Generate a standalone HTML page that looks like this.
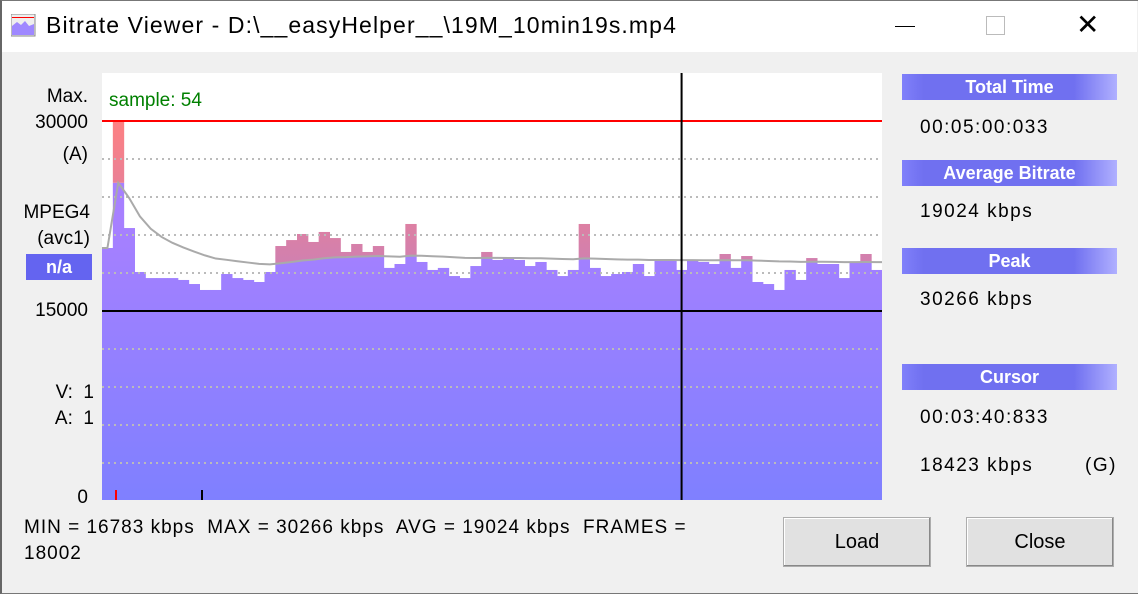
<!DOCTYPE html>
<html><head><meta charset="utf-8"><style>
body{margin:0;width:1138px;height:594px;background:#f0f0f0;font-family:"Liberation Sans",sans-serif;position:relative;overflow:hidden}
.a{position:absolute;white-space:nowrap}
#win{position:absolute;left:0;top:0;width:1136px;height:592px;border:1px solid #777;border-left:2px solid #666}
.hdr{position:absolute;left:902px;width:215px;height:26px;background:linear-gradient(90deg,#8080fa 0%,#7070f0 10%,#7070f0 80%,#b0b0ff 100%);color:#fff;font-weight:bold;font-size:18px;text-align:center;line-height:26px}
.val{position:absolute;left:920px;font-size:19px;color:#000;letter-spacing:1.5px}
.lbl{position:absolute;font-size:19px;color:#000;text-align:right}
.btn{position:absolute;top:517px;width:146px;height:48px;background:#e1e1e1;border:1px solid #adadad;box-shadow:inset -1px -1px 0 #888,inset 1px 1px 0 #fff;font-size:20px;text-align:center;line-height:48px}
</style></head><body>
<div id="win"></div>
<div class="a" style="left:2px;top:1px;width:1135px;height:51px;background:#fff"></div>
<svg class="a" style="left:11px;top:14px" width="26" height="24"><rect x="0" y="0" width="24" height="22" fill="#eee" stroke="#888"/><rect x="1" y="3" width="22" height="1" fill="red"/><polygon points="1,21 1,12 6,8 10,11 14,7 18,12 23,10 23,21" fill="#9f88ff"/></svg>
<div class="a" style="left:46px;top:12px;font-size:23px;letter-spacing:1.1px">Bitrate Viewer - D:\__easyHelper__\19M_10min19s.mp4</div>
<div class="a" style="left:895px;top:26px;width:20px;height:1px;background:#000"></div>
<div class="a" style="left:986px;top:16px;width:17px;height:17px;border:1px solid #bbb"></div>
<div class="a" style="left:1076px;top:8px;font-size:28px">✕</div>

<div class="lbl" style="left:20px;top:86px;width:68px">Max.</div>
<div class="lbl" style="left:20px;top:112px;width:68px">30000</div>
<div class="lbl" style="left:20px;top:144px;width:68px">(A)</div>
<div class="lbl" style="left:10px;top:202px;width:80px">MPEG4</div>
<div class="lbl" style="left:10px;top:228px;width:80px">(avc1)</div>
<div class="a" style="left:26px;top:254px;width:66px;height:26px;background:#6464f0;color:#fff;font-weight:bold;font-size:18px;text-align:center;line-height:26px">n/a</div>
<div class="lbl" style="left:20px;top:300px;width:68px">15000</div>
<div class="lbl" style="left:20px;top:382px;width:74px">V:&nbsp; 1</div>
<div class="lbl" style="left:20px;top:408px;width:74px">A:&nbsp; 1</div>
<div class="lbl" style="left:20px;top:487px;width:68px">0</div>

<svg class="a" id="chart" style="left:102px;top:73px" width="780" height="427"></svg>

<div class="a" style="left:24px;top:517px;font-size:19px;letter-spacing:1px">MIN = 16783 kbps&nbsp; MAX = 30266 kbps&nbsp; AVG = 19024 kbps&nbsp; FRAMES =</div>
<div class="a" style="left:24px;top:543px;font-size:19px;letter-spacing:1px">18002</div>

<div class="hdr" style="top:74px">Total Time</div>
<div class="val" style="top:117px">00:05:00:033</div>
<div class="hdr" style="top:160px">Average Bitrate</div>
<div class="val" style="top:201px">19024 kbps</div>
<div class="hdr" style="top:248px">Peak</div>
<div class="val" style="top:289px">30266 kbps</div>
<div class="hdr" style="top:364px">Cursor</div>
<div class="val" style="top:407px">00:03:40:833</div>
<div class="val" style="top:455px;height:22px;overflow:hidden">18423 kbps</div>
<div class="val" style="left:1085px;top:455px">(G)</div>

<div class="btn" style="left:783px">Load</div>
<div class="btn" style="left:966px">Close</div>

<script>
const bitrates=[19974,30266,21550,18080,17600,17600,17600,17450,17130,16660,16660,17920,17600,17450,17290,18080,20130,20600,21080,20450,21240,20760,19660,20290,19660,20130,18400,18710,21870,18870,18240,18400,17760,17600,18550,19660,19030,19180,19030,18550,18870,18240,17760,18240,21870,18400,17760,17920,18080,18710,17760,19030,19030,18240,19030,18870,18710,19500,18400,19340,17290,17130,16660,18240,17450,19180,18710,18710,17600,18870,19500,18240];
const gridTicks=[3000,6000,9000,12000,18000,21000,24000,27000];
const maxValue=30000, midValue=15000, cursorIndex=53.5, sampleLabel="sample: 54";
const NS="http://www.w3.org/2000/svg";
const svg=document.getElementById('chart');
const W=780,H=427;
const y=v=>428-Math.min(v,maxValue)*38/3000;
const x=i=>i*W/bitrates.length;
function mk(t,a){const e=document.createElementNS(NS,t);for(const k in a)e.setAttribute(k,a[k]);svg.appendChild(e);return e;}
const defs=mk('defs',{});
defs.innerHTML='<linearGradient id="pg" x1="0" y1="0" x2="0" y2="'+H+'" gradientUnits="userSpaceOnUse"><stop offset="0.35" stop-color="#a780ff"/><stop offset="1" stop-color="#7f80ff"/></linearGradient><linearGradient id="rg" x1="0" y1="0" x2="0" y2="'+H+'" gradientUnits="userSpaceOnUse"><stop offset="0.1" stop-color="#ff8080"/><stop offset="0.45" stop-color="#d080b0"/></linearGradient>';
const bg=mk('rect',{x:0,y:0,width:W,height:H,fill:'#fff'});


const avgs=[];let s=0;bitrates.forEach((v,i)=>{s+=v;avgs.push(s/(i+1));});
bitrates.forEach((v,i)=>{
  const a=avgs[i],lo=Math.min(v,a);
  const r=mk('rect',{x:x(i),y:y(lo),width:W/bitrates.length+0.5,height:H-y(lo),fill:'url(#pg)'});
  
  
  if(v>a){const p=mk('rect',{x:x(i),y:y(v),width:W/bitrates.length+0.5,height:y(a)-y(v),fill:'url(#rg)'});
    
    }
});
gridTicks.forEach(t=>{const g=mk('line',{x1:0,x2:W,y1:y(t),y2:y(t),stroke:'#bbb','stroke-width':2,'stroke-dasharray':'2 4'});
  
  });
let pts='0,'+y(bitrates[0]);
avgs.forEach((a,i)=>{pts+=' '+(x(i)+W/bitrates.length/2)+','+y(a);});
pts+=' '+W+','+y(avgs[avgs.length-1]);
const al=mk('polyline',{points:pts,fill:'none',stroke:'#aaa','stroke-width':2});


const ml=mk('line',{x1:0,x2:W,y1:y(maxValue),y2:y(maxValue),stroke:'#f00','stroke-width':2});


const hl=mk('line',{x1:0,x2:W,y1:y(midValue),y2:y(midValue),stroke:'#000','stroke-width':2});


const cl=mk('line',{x1:x(cursorIndex),x2:x(cursorIndex),y1:0,y2:H,stroke:'#000','stroke-width':2});


const t1=mk('line',{x1:14,x2:14,y1:417,y2:427,stroke:'#f00','stroke-width':2});


const t2=mk('line',{x1:100,x2:100,y1:417,y2:427,stroke:'#000','stroke-width':2});


const st=mk('text',{x:7,y:33,fill:'#008000','font-size':19,'font-family':'Liberation Sans, sans-serif'});
st.textContent=sampleLabel;


</script>
</body></html>
